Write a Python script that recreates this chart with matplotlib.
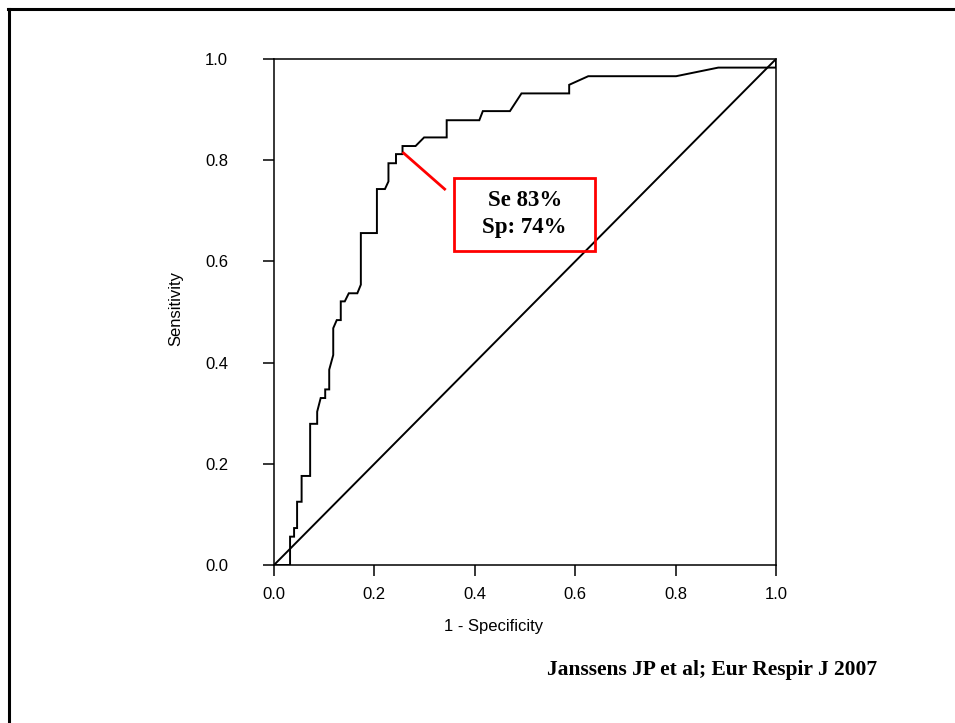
import matplotlib
matplotlib.use("Agg")
import matplotlib.pyplot as plt
from matplotlib.lines import Line2D
from matplotlib.patches import Rectangle

# ROC curve
fpr = [0.0, 0.032, 0.032, 0.040, 0.040, 0.046, 0.046, 0.055, 0.055, 0.072, 0.072,
       0.086, 0.086, 0.093, 0.102, 0.102, 0.110, 0.110, 0.118, 0.118, 0.125, 0.133,
       0.133, 0.141, 0.149, 0.166, 0.173, 0.173, 0.205, 0.205, 0.221, 0.228, 0.228,
       0.243, 0.243, 0.256, 0.256, 0.282, 0.299, 0.344, 0.344, 0.409, 0.416, 0.470,
       0.493, 0.588, 0.588, 0.626, 0.801, 0.885, 1.0, 1.0]
tpr = [0.0, 0.0, 0.056, 0.056, 0.073, 0.073, 0.125, 0.125, 0.176, 0.176, 0.279,
       0.279, 0.303, 0.330, 0.330, 0.347, 0.347, 0.386, 0.415, 0.468, 0.484, 0.484,
       0.521, 0.521, 0.537, 0.537, 0.554, 0.656, 0.656, 0.743, 0.743, 0.758, 0.794,
       0.794, 0.812, 0.812, 0.828, 0.828, 0.845, 0.845, 0.879, 0.879, 0.897, 0.897,
       0.932, 0.932, 0.949, 0.966, 0.966, 0.983, 0.983, 1.0]
diag_x = [0.0, 1.0]
diag_y = [0.0, 1.0]
ticks = [0.0, 0.2, 0.4, 0.6, 0.8, 1.0]
tick_labels = ["0.0", "0.2", "0.4", "0.6", "0.8", "1.0"]
cut_point = (0.256, 0.816)
box_lines = ["Se 83%", "Sp: 74%"]
citation = "Janssens JP et al; Eur Respir J 2007"

plt.rcParams['font.family'] = ['Liberation Sans', 'DejaVu Sans']

W, H = 955, 723
fig = plt.figure(figsize=(W / 100, H / 100), dpi=100)
fig.patch.set_facecolor("white")

def fx(px):
    return px / W

def fy(py):
    return 1 - py / H

ax = fig.add_axes([fx(274), fy(565), 502 / W, 506 / H])
ax.plot(fpr, tpr, color="black", lw=1.4, solid_joinstyle="miter")
ax.plot(diag_x, diag_y, color="black", lw=1.4)
ax.set_xlim(0, 1)
ax.set_ylim(0, 1)
ax.set_xticks(ticks)
ax.set_xticklabels(tick_labels)
ax.set_yticks(ticks)
ax.set_yticklabels(tick_labels)
ax.tick_params(direction="out", length=8, width=1.1, labelsize=12, colors="black")
ax.tick_params(axis="y", pad=25)
ax.tick_params(axis="x", pad=8)
for s in ax.spines.values():
    s.set_linewidth(1.1)
    s.set_color("black")

fig.text(fx(494), fy(627), "1 - Specificity", ha="center", va="center", fontsize=12)
fig.text(fx(176), fy(308), "Sensitivity", ha="center", va="center", rotation=90, fontsize=12)

# pointer line from the cut point to the box
end = ((445.7 - 274) / 502, (565 - 190) / 506)
ax.plot([cut_point[0], end[0]], [cut_point[1], end[1]], color="#ff0000", lw=2.0,
        clip_on=False, solid_capstyle="butt")

# red box
rect = Rectangle((fx(454.3), fy(251)), (595 - 454.3) / W, (251 - 178.3) / H,
                 transform=fig.transFigure, fill=False, edgecolor="#ff0000", lw=2.0)
fig.add_artist(rect)
fig.text(fx(524.7), fy(200), box_lines[0], ha="center", va="center", fontsize=16.5,
         fontweight="bold", family="Liberation Serif")
fig.text(fx(524.7), fy(228), box_lines[1], ha="center", va="center", fontsize=16.5,
         fontweight="bold", family="Liberation Serif")

fig.text(fx(711.7), fy(675), citation, ha="center", va="baseline", fontsize=15.5,
         fontweight="bold", family="Liberation Serif")

# slide border (left and top)
fig.add_artist(Line2D([fx(8.7), fx(8.7)], [fy(8.7), fy(730)], transform=fig.transFigure,
                      color="black", lw=2.2))
fig.add_artist(Line2D([fx(7.6), fx(960)], [fy(8.7), fy(8.7)], transform=fig.transFigure,
                      color="black", lw=2.2))

fig.savefig("out.png", dpi=100)
